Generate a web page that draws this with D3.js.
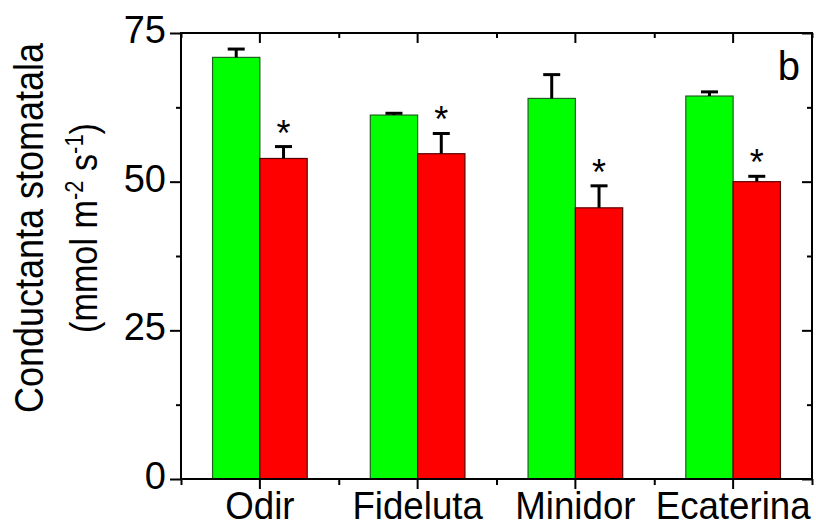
<!DOCTYPE html>
<html>
<head>
<meta charset="utf-8">
<script src="https://cdn.jsdelivr.net/npm/d3@7"></script>
<style>
  body { margin: 0; background: #fff; }
  svg { display: block; }
  text { font-family: "Liberation Sans", Arial, sans-serif; fill: #000; }
</style>
</head>
<body>
<svg width="816" height="524"></svg>
<script>
// data
const categories = ['Odir', 'Fideluta', 'Minidor', 'Ecaterina'];
const control = [70.9, 61.2, 64.0, 64.4];
const controlErr = [1.4, 0.3, 4.0, 0.7];
const stress = [53.9, 54.7, 45.6, 50.0];
const stressErr = [2.0, 3.4, 3.7, 0.9];
const significant = [true, true, true, true];
const yTicks = [0, 25, 50, 75];
const yMinor = [12.5, 37.5, 62.5];

const svg = d3.select('svg');
const margin = { left: 181, top: 33, right: 4, bottom: 45 };
const width = +svg.attr('width');
const height = +svg.attr('height');
const innerWidth = width - margin.left - margin.right;
const innerHeight = height - margin.top - margin.bottom;

// squeeze text a little, the original font is narrower than Arial
const condense = (sel, ratio) => sel.each(function () {
  const len = this.getComputedTextLength();
  d3.select(this).attr('textLength', len * ratio).attr('lengthAdjust', 'spacingAndGlyphs');
});

const g = svg.append('g')
  .attr('transform', `translate(${margin.left},${margin.top})`);

const xScale = d3.scaleBand()
  .domain(categories)
  .range([0, innerWidth])
  .padding(0);

const subScale = d3.scaleBand()
  .domain(['control', 'stress'])
  .range([0, xScale.bandwidth()])
  .paddingInner(0)
  .paddingOuter(0.667);

const yScale = d3.scaleLinear()
  .domain([0, 75])
  .range([innerHeight, 0]);

const rows = categories.map((c, i) => ([
  { cat: c, key: 'control', value: control[i], err: controlErr[i], star: false },
  { cat: c, key: 'stress', value: stress[i], err: stressErr[i], star: significant[i] }
])).flat();

const colors = { control: '#00ff00', stress: '#ff0000' };
const edges = { control: '#1f5f1f', stress: '#5a0000' };

// bars
g.selectAll('rect.bar').data(rows)
  .enter().append('rect')
    .attr('class', 'bar')
    .attr('x', d => xScale(d.cat) + subScale(d.key))
    .attr('width', subScale.bandwidth())
    .attr('y', d => yScale(d.value))
    .attr('height', d => yScale(0) - yScale(d.value))
    .attr('fill', d => colors[d.key])
    .attr('stroke', d => edges[d.key])
    .attr('stroke-width', 1.2);

// error bars (upper half only)
const cx = d => xScale(d.cat) + subScale(d.key) + subScale.bandwidth() / 2;
g.selectAll('line.stem').data(rows)
  .enter().append('line')
    .attr('x1', cx).attr('x2', cx)
    .attr('y1', d => yScale(d.value))
    .attr('y2', d => yScale(d.value + d.err))
    .attr('stroke', '#000').attr('stroke-width', 3);
g.selectAll('line.cap').data(rows)
  .enter().append('line')
    .attr('x1', d => cx(d) - 8.5).attr('x2', d => cx(d) + 8.5)
    .attr('y1', d => yScale(d.value + d.err))
    .attr('y2', d => yScale(d.value + d.err))
    .attr('stroke', '#000').attr('stroke-width', 3);

// significance stars
g.selectAll('text.star').data(rows.filter(d => d.star))
  .enter().append('text')
    .attr('x', cx)
    .attr('y', d => yScale(d.value + d.err) - 1)
    .attr('text-anchor', 'middle')
    .style('font-size', '36px')
    .text('*');

// axes
const tickStyle = sel => {
  sel.select('.domain').remove();
  sel.selectAll('line').attr('stroke', '#000').attr('stroke-width', 2);
};

const edgesAndMids = [0, 1, 2, 3, 4].map(i => i * xScale.step());
const xPos = d3.scaleLinear().domain([0, innerWidth]).range([0, innerWidth]);

// bottom: major at categories, minor at band edges
const bottomG = g.append('g').attr('transform', `translate(0,${innerHeight})`);
bottomG.append('g').call(d3.axisBottom(xScale).tickSize(10).tickPadding(0))
  .call(tickStyle)
  .selectAll('text')
    .style('font-size', '39px')
    .attr('y', 40).attr('dy', null)
    .call(condense, 0.94);
bottomG.append('g').call(d3.axisBottom(xPos).tickValues(edgesAndMids).tickSize(6).tickFormat(''))
  .call(tickStyle);

// top: ticks pointing inward
g.append('g').call(d3.axisBottom(xScale).tickSize(10).tickFormat(''))
  .call(tickStyle);
g.append('g').call(d3.axisBottom(xPos).tickValues(edgesAndMids).tickSize(5).tickFormat(''))
  .call(tickStyle);

// left
g.append('g').call(d3.axisLeft(yScale).tickValues(yTicks).tickSize(11).tickPadding(4))
  .call(tickStyle)
  .selectAll('text').style('font-size', '38px').attr('dy', '0.25em');
g.append('g').call(d3.axisLeft(yScale).tickValues(yMinor).tickSize(5).tickFormat(''))
  .call(tickStyle);

// right, inward
const rightG = g.append('g').attr('transform', `translate(${innerWidth},0)`);
rightG.append('g').call(d3.axisLeft(yScale).tickValues(yTicks).tickSize(10).tickFormat(''))
  .call(tickStyle);
rightG.append('g').call(d3.axisLeft(yScale).tickValues(yMinor).tickSize(5).tickFormat(''))
  .call(tickStyle);

// frame
g.append('rect')
  .attr('width', innerWidth).attr('height', innerHeight)
  .attr('fill', 'none').attr('stroke', '#000').attr('stroke-width', 2);

// panel letter
g.append('text')
  .attr('x', innerWidth - 12)
  .attr('y', 47)
  .attr('text-anchor', 'end')
  .style('font-size', '40px')
  .text('b');

// y-axis title
const titleY = 228;
svg.append('text')
  .attr('transform', `translate(43,${titleY}) rotate(-90)`)
  .attr('text-anchor', 'middle')
  .style('font-size', '40px')
  .text('Conductanta stomatala')
  .attr('textLength', 370)
  .attr('lengthAdjust', 'spacingAndGlyphs');

const unit = svg.append('text')
  .attr('transform', `translate(97,${titleY}) rotate(-90)`)
  .attr('text-anchor', 'middle')
  .style('font-size', '39px');
unit.append('tspan').text('(mmol m');
unit.append('tspan').attr('dy', -14).style('font-size', '25px').text('-2');
unit.append('tspan').attr('dy', 14).text(' s');
unit.append('tspan').attr('dy', -14).style('font-size', '25px').text('-1');
unit.append('tspan').attr('dy', 14).text(')');
unit.attr('textLength', 210).attr('lengthAdjust', 'spacingAndGlyphs');
</script>
</body>
</html>
